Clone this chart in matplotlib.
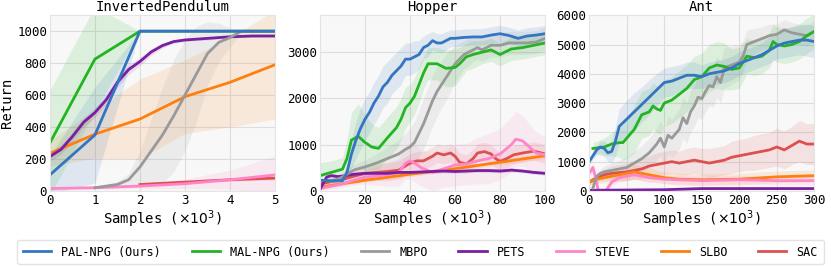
import matplotlib.pyplot as plt
from matplotlib.lines import Line2D

plt.rcParams['font.family'] = ['DejaVu Sans Mono']

methods = ["PAL-NPG (Ours)", "MAL-NPG (Ours)", "MBPO", "PETS", "STEVE", "SLBO", "SAC"]
colors = ["#3474c0", "#22b422", "#999999", "#7a1fa0", "#ff85c8", "#ff7f0e", "#dc5050"]

# -------------------------------
# InvertedPendulum  (x in 10^3 samples)
# -------------------------------
ip_x = [0, 1, 2, 3, 4, 5]
ip_pal = [100, 350, 1000, 1000, 1000, 1000]
ip_pal_sd = [120, 300, 0, 0, 0, 0]
ip_mal = [300, 825, 1000, 1000, 1000, 1000]
ip_mal_sd = [330, 330, 0, 0, 0, 0]
ip_pets_x = [0, 0.25, 0.5, 0.75, 1, 1.25, 1.5, 1.75, 2, 2.25, 2.5, 2.75, 3, 3.5, 4, 4.5, 5]
ip_pets = [215, 260, 340, 430, 490, 570, 680, 760, 810, 870, 910, 935, 945, 955, 965, 970, 970]
ip_pets_sd = [30, 30, 30, 30, 30, 30, 30, 30, 25, 20, 15, 10, 10, 10, 8, 8, 8]
ip_mbpo_x = [1, 1.5, 1.75, 2, 2.25, 2.5, 2.75, 3, 3.25, 3.5, 3.75, 4, 4.25, 5]
ip_mbpo = [20, 40, 70, 150, 250, 350, 470, 600, 730, 860, 930, 960, 1000, 1000]
ip_mbpo_sd = [5, 20, 40, 100, 200, 300, 350, 350, 300, 200, 120, 60, 10, 0]
ip_slbo = [235, 355, 450, 590, 680, 790]
ip_slbo_sd = [80, 150, 250, 230, 280, 340]
ip_steve = [15, 20, 30, 45, 70, 100]
ip_steve_sd = [8, 10, 15, 30, 60, 120]
ip_sac_x = [2, 3, 4, 5]
ip_sac = [40, 55, 70, 80]
ip_sac_sd = [8, 10, 10, 12]

# -------------------------------
# Hopper (x in 10^3 samples)
# -------------------------------
hp_pal_x = [0, 5, 10, 12, 14, 16, 18, 20, 22, 24, 26, 28, 30, 32, 34, 36, 38, 40, 42, 44, 46,
            48, 50, 52, 54, 56, 58, 60, 64, 68, 72, 76, 80, 84, 88, 92, 96, 100]
hp_pal = [230, 220, 220, 400, 800, 1100, 1350, 1550, 1700, 1900, 2050, 2250, 2350, 2500, 2600,
          2700, 2850, 2850, 2900, 2950, 3100, 3150, 3250, 3200, 3200, 3250, 3300, 3300, 3320,
          3330, 3330, 3370, 3400, 3360, 3300, 3350, 3370, 3400]
hp_pal_sd = [40, 40, 60, 150, 300, 400, 450, 450, 450, 450, 450, 450, 450, 400, 400, 400, 350,
             350, 350, 300, 250, 250, 200, 200, 200, 200, 180, 180, 180, 180, 180, 180, 180,
             180, 180, 180, 180, 180]
hp_mal_x = [0, 5, 10, 12, 14, 17, 20, 23, 26, 30, 34, 36, 38, 40, 42, 44, 46, 48, 52, 56, 60,
            62, 65, 68, 72, 76, 78, 80, 82, 85, 90, 95, 100]
hp_mal = [330, 400, 470, 700, 1100, 1180, 1050, 950, 920, 1150, 1370, 1550, 1800, 1900, 2050,
          2300, 2550, 2750, 2750, 2650, 2670, 2750, 2900, 2950, 3000, 3050, 3000, 2950, 3000,
          3070, 3100, 3150, 3200]
hp_mal_sd = [280, 250, 250, 400, 600, 700, 600, 500, 450, 450, 450, 450, 450, 400, 400, 400,
             350, 350, 350, 400, 400, 350, 300, 300, 250, 250, 250, 250, 250, 250, 250, 250, 250]
hp_mbpo_x = [5, 10, 15, 20, 25, 30, 35, 38, 40, 42, 44, 46, 48, 50, 52, 54, 56, 58, 60, 62, 64,
             66, 68, 70, 72, 74, 76, 80, 84, 88, 92, 96, 100]
hp_mbpo = [200, 300, 450, 520, 600, 700, 800, 900, 950, 1050, 1250, 1450, 1700, 1950, 2150,
           2300, 2450, 2600, 2750, 2850, 2950, 3000, 3050, 3100, 3050, 3100, 3150, 3150, 3200,
           3200, 3200, 3220, 3300]
hp_mbpo_sd = [80, 100, 120, 150, 200, 250, 300, 350, 400, 450, 500, 550, 550, 550, 550, 500,
              500, 450, 400, 350, 300, 300, 250, 250, 250, 250, 250, 250, 250, 250, 250, 250, 250]
hp_pets_x = [0, 3, 5, 8, 10, 15, 20, 25, 30, 35, 40, 45, 50, 55, 60, 65, 70, 75, 80, 85, 90, 95, 100]
hp_pets = [30, 300, 330, 310, 320, 360, 380, 380, 380, 400, 400, 410, 420, 430, 420, 430, 440,
           440, 430, 450, 430, 400, 380]
hp_pets_sd = [20, 40, 40, 40, 40, 40, 40, 40, 40, 40, 40, 40, 40, 40, 40, 40, 40, 40, 40, 40,
              40, 40, 40]
hp_steve_x = [0, 5, 10, 15, 20, 25, 30, 35, 38, 40, 42, 45, 50, 55, 60, 65, 70, 75, 80, 85, 87,
              90, 93, 96, 100]
hp_steve = [50, 100, 150, 230, 300, 320, 350, 400, 600, 650, 600, 500, 400, 480, 560, 580, 650,
            700, 800, 1000, 1120, 1080, 950, 820, 780]
hp_steve_sd = [40, 60, 80, 100, 150, 200, 250, 300, 350, 400, 400, 400, 400, 400, 450, 450, 500,
               550, 550, 600, 600, 550, 500, 450, 400]
hp_slbo_x = [0, 20, 40, 60, 80, 100]
hp_slbo = [80, 230, 360, 480, 620, 760]
hp_slbo_sd = [40, 40, 50, 50, 60, 60]
hp_sac_x = [0, 10, 20, 30, 35, 40, 43, 46, 50, 52, 55, 58, 60, 62, 65, 68, 70, 73, 76, 78, 80,
            83, 86, 90, 95, 100]
hp_sac = [150, 250, 380, 420, 450, 600, 650, 650, 750, 820, 780, 820, 750, 620, 580, 700, 820,
          850, 800, 700, 640, 700, 780, 820, 860, 800]
hp_sac_sd = [60, 100, 150, 200, 200, 200, 200, 200, 200, 200, 200, 200, 200, 200, 200, 200,
             200, 200, 200, 200, 200, 200, 200, 200, 200, 200]

# -------------------------------
# Ant (x in 10^3 samples)
# -------------------------------
an_pal_x = [0, 10, 15, 20, 25, 30, 35, 40, 50, 60, 70, 80, 90, 100, 110, 120, 130, 140, 150,
            160, 170, 180, 190, 200, 210, 220, 230, 240, 250, 260, 270, 280, 290, 300]
an_pal = [1000, 1400, 1500, 1450, 1300, 1350, 1700, 2200, 2450, 2700, 2950, 3200, 3450, 3700,
          3750, 3850, 3950, 3950, 3900, 4000, 4050, 4100, 4200, 4350, 4450, 4550, 4650, 4800,
          4950, 5050, 5100, 5150, 5150, 5100]
an_pal_sd = [100, 150, 200, 250, 300, 400, 500, 600, 650, 650, 600, 600, 550, 500, 500, 450,
             450, 450, 400, 400, 400, 400, 400, 400, 400, 400, 400, 450, 450, 500, 500, 500,
             550, 550]
an_mal_x = [5, 20, 30, 40, 45, 50, 60, 70, 80, 85, 90, 95, 100, 110, 120, 130, 140, 150, 160,
            170, 180, 190, 200, 210, 220, 230, 240, 245, 250, 260, 270, 280, 290, 300]
an_mal = [1450, 1500, 1600, 1650, 1650, 1800, 2100, 2600, 2700, 2900, 2800, 2750, 3000, 3100,
          3300, 3500, 3800, 3900, 4200, 4300, 4250, 4150, 4200, 4600, 4550, 4600, 4800, 5100,
          5000, 4950, 5000, 5100, 5300, 5450]
an_mal_sd = [200, 300, 400, 500, 600, 700, 800, 800, 800, 800, 800, 800, 800, 800, 800, 800,
             800, 800, 800, 800, 800, 700, 700, 600, 600, 600, 600, 600, 600, 600, 600, 600,
             600, 600]
an_mbpo_x = [5, 10, 15, 20, 30, 40, 50, 60, 70, 80, 90, 95, 100, 105, 110, 120, 125, 130, 135,
             140, 145, 150, 155, 160, 165, 170, 175, 180, 190, 200, 205, 210, 220, 230, 240,
             250, 260, 270, 280, 290, 300]
an_mbpo = [100, 500, 600, 650, 700, 750, 800, 950, 1100, 1300, 1600, 1800, 1500, 1900, 1800,
           2100, 2500, 2300, 2700, 2900, 3200, 3150, 3400, 3600, 3550, 3900, 3700, 4200, 4300,
           4400, 4600, 5000, 5100, 5200, 5300, 5350, 5500, 5400, 5350, 5300, 5450]
an_mbpo_sd = [50, 100, 150, 200, 250, 300, 350, 400, 450, 500, 550, 600, 600, 650, 650, 700,
              700, 700, 700, 700, 700, 700, 700, 700, 700, 700, 700, 700, 650, 600, 550, 500,
              450, 400, 400, 350, 350, 350, 350, 350, 350]
an_pets_x = [0, 50, 100, 150, 200, 250, 300]
an_pets = [20, 30, 40, 80, 80, 80, 80]
an_pets_sd = [20, 20, 20, 20, 20, 20, 20]
an_steve_x = [0, 5, 10, 12, 22, 30, 40, 50, 60, 70, 80, 100, 150, 200, 250, 300]
an_steve = [600, 800, 300, 0, 0, 300, 450, 500, 550, 500, 450, 400, 350, 380, 350, 350]
an_steve_sd = [150, 150, 150, 100, 100, 150, 150, 150, 150, 150, 150, 150, 150, 150, 150, 150]
an_slbo_x = [0, 10, 30, 50, 60, 70, 80, 90, 100, 120, 150, 200, 250, 300]
an_slbo = [300, 400, 500, 600, 650, 600, 550, 500, 450, 400, 380, 400, 480, 520]
an_slbo_sd = [100, 150, 200, 250, 250, 250, 250, 200, 200, 200, 200, 200, 200, 200]
an_sac_x = [0, 10, 20, 30, 50, 60, 70, 80, 90, 100, 110, 120, 130, 140, 150, 160, 170, 180,
            190, 200, 210, 220, 230, 240, 250, 260, 270, 280, 290, 300]
an_sac = [300, 450, 550, 600, 650, 700, 750, 850, 900, 950, 1000, 950, 1000, 1050, 1000, 950,
          1000, 1050, 1150, 1200, 1250, 1300, 1350, 1400, 1500, 1400, 1550, 1700, 1600, 1600]
an_sac_sd = [100, 150, 200, 250, 300, 300, 350, 350, 400, 400, 400, 400, 450, 450, 450, 500,
             500, 500, 550, 550, 550, 600, 600, 600, 650, 650, 650, 700, 700, 700]

panels = [
    ("InvertedPendulum", (0, 5), (0, 1100), [0, 200, 400, 600, 800, 1000], [
        (ip_x, ip_pal, ip_pal_sd), (ip_x, ip_mal, ip_mal_sd), (ip_mbpo_x, ip_mbpo, ip_mbpo_sd),
        (ip_pets_x, ip_pets, ip_pets_sd), (ip_x, ip_steve, ip_steve_sd),
        (ip_x, ip_slbo, ip_slbo_sd), (ip_sac_x, ip_sac, ip_sac_sd)]),
    ("Hopper", (0, 100), (0, 3800), [0, 1000, 2000, 3000], [
        (hp_pal_x, hp_pal, hp_pal_sd), (hp_mal_x, hp_mal, hp_mal_sd),
        (hp_mbpo_x, hp_mbpo, hp_mbpo_sd), (hp_pets_x, hp_pets, hp_pets_sd),
        (hp_steve_x, hp_steve, hp_steve_sd), (hp_slbo_x, hp_slbo, hp_slbo_sd),
        (hp_sac_x, hp_sac, hp_sac_sd)]),
    ("Ant", (0, 300), (0, 6000), [0, 1000, 2000, 3000, 4000, 5000, 6000], [
        (an_pal_x, an_pal, an_pal_sd), (an_mal_x, an_mal, an_mal_sd),
        (an_mbpo_x, an_mbpo, an_mbpo_sd), (an_pets_x, an_pets, an_pets_sd),
        (an_steve_x, an_steve, an_steve_sd), (an_slbo_x, an_slbo, an_slbo_sd),
        (an_sac_x, an_sac, an_sac_sd)]),
]

# draw order: back to front
order = [6, 5, 4, 3, 2, 1, 0]

fig = plt.figure(figsize=(8.31, 2.67), dpi=100)
lefts = [0.060, 0.385, 0.709]

for i, (title, xlim, ylim, yticks, series) in enumerate(panels):
    ax = fig.add_axes([lefts[i], 0.285, 0.271, 0.658])
    ax.set_facecolor("#f8f8f8")
    for k in order:
        x, y, sd = series[k]
        lo = [a - b for a, b in zip(y, sd)]
        hi = [a + b for a, b in zip(y, sd)]
        ax.fill_between(x, lo, hi, color=colors[k], alpha=0.13, lw=0)
        ax.plot(x, y, color=colors[k], lw=2)
    ax.set_xlim(*xlim)
    ax.set_ylim(*ylim)
    ax.set_yticks(yticks)
    ax.grid(True, color="#dddddd", lw=0.8)
    ax.set_axisbelow(True)
    ax.tick_params(length=0, labelsize=9, pad=2)
    for s in ax.spines.values():
        s.set_color("#e4e4e4")
    ax.set_title(title, fontsize=10, pad=3)
    ax.set_xlabel(r"Samples ($\times10^3$)", fontsize=10, labelpad=1)
    if i == 0:
        ax.set_ylabel("Return", fontsize=10, labelpad=2)

handles = [Line2D([0], [0], color=c, lw=2) for c in colors]
leg = fig.legend(handles, methods, loc="center", bbox_to_anchor=(0.506, 0.056), ncol=7,
                 fontsize=8.5, frameon=True, edgecolor="#dddddd", fancybox=True,
                 handlelength=2.4, handletextpad=0.85, columnspacing=2.6, borderpad=0.5)

fig.savefig("out.png", dpi=100)
